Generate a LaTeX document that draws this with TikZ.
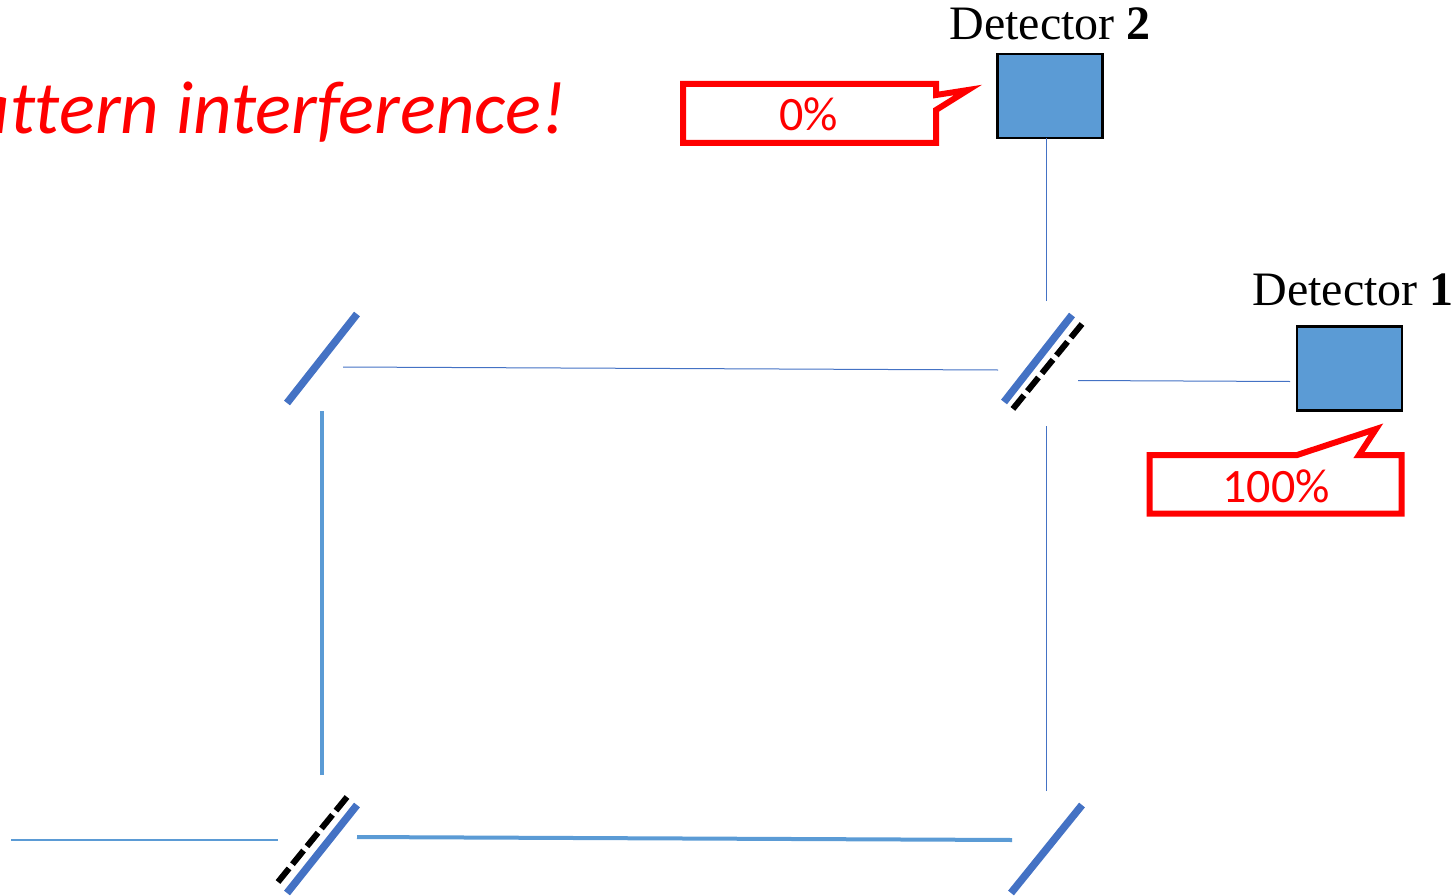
\documentclass[tikz,border=0pt]{standalone}
\usepackage{fontspec}
\setmainfont{Liberation Serif}
\newfontfamily\calloutfont[Ligatures=NoCommon]{Carlito}
\definecolor{boxblue}{HTML}{5B9BD5}
\definecolor{mirrorblue}{HTML}{4472C4}
\begin{document}
\begin{tikzpicture}[x=1pt,y=-1pt]

  %Styles for picture
  \tikzset
  {
  detector/.style={draw=black, line width=2.5pt, fill=boxblue, inner sep=0pt, outer sep=0pt, minimum width=105pt, minimum height=84pt},
  detlabel/.style={anchor=base, inner sep=0pt, font=\fontsize{48}{48}\selectfont},
  percent/.style={anchor=base, inner sep=0pt, text=red, font=\calloutfont\fontsize{48}{48}\selectfont},
  callout/.style={draw=red, line width=6pt, miter limit=20},
  mirror/.style={draw=mirrorblue, line width=7.5pt},
  halfmirror/.style={draw=black, line width=6pt, dash pattern=on 17.5pt off 5.5pt},
  thinbeam/.style={draw=mirrorblue, line width=1pt},
  lightbeam/.style={draw=boxblue, line width=1.2pt},
  thickbeam/.style={draw=boxblue, line width=4pt},
  }

  \useasboundingbox (0,0) rectangle (1455,896);

  %Nodes
  \node[detector] (d2) at (1050,96) {};
  \node[detector] (d1) at (1349.5,368.5) {};
  \node[detlabel] (d2label) at (1050,40) {Detector \textbf{2}};
  \node[detlabel] (d1label) at (1353,305) {Detector \textbf{1}};
  \node[anchor=base east, inner sep=0pt, text=red, font=\calloutfont\itshape\fontsize{75}{75}\selectfont] (title) at (566,134) {attern interference!};

  %Mirrors
  \coordinate (m1a) at (287,403);
  \coordinate (m1b) at (357,314);
  \coordinate (m2a) at (1004,402);
  \coordinate (m2b) at (1072,315);
  \coordinate (m2c) at (1012,410);
  \coordinate (m2d) at (1082,324);
  \coordinate (m3a) at (287,893);
  \coordinate (m3b) at (357,805);
  \coordinate (m3c) at (278,882);
  \coordinate (m3d) at (347,797);
  \coordinate (m4a) at (1011,893);
  \coordinate (m4b) at (1082,805);
  \draw[mirror] (m1a) -- (m1b);
  \draw[mirror] (m2a) -- (m2b);
  \draw[halfmirror] (m2d) -- (m2c);
  \draw[mirror] (m3a) -- (m3b);
  \draw[halfmirror] (m3d) -- (m3c);
  \draw[mirror] (m4a) -- (m4b);

  %Beam ends
  \coordinate (b1) at (11,840);
  \coordinate (b2) at (278,840);
  \coordinate (b3) at (357,837);
  \coordinate (b4) at (1012,840);
  \coordinate (b5) at (322,775);
  \coordinate (b6) at (322,411);
  \coordinate (b7) at (343,367);
  \coordinate (b8) at (998,370);
  \coordinate (b9) at (1046.6,791);
  \coordinate (b10) at (1046.6,426);
  \coordinate (b11) at (1046.6,301);
  \coordinate (b12) at (1046.6,138);
  \coordinate (b13) at (1078,380.5);
  \coordinate (b14) at (1290,381.5);

  %Edges
  \draw[lightbeam] (b1) -- (b2);
  \draw[thickbeam] (b3) -- (b4);
  \draw[thickbeam] (b5) -- (b6);
  \draw[thinbeam] (b7) -- (b8);
  \draw[thinbeam] (b9) -- (b10);
  \draw[thinbeam] (b11) -- (b12);
  \draw[thinbeam] (b13) -- (b14);

  %Callouts
  \draw[callout] (683,84) -- (936,84) -- (936,95) -- (968,90) -- (936,110) -- (936,143) -- (683,143) -- cycle;
  \draw[callout] (1149.5,455) -- (1297,455) -- (1376,429) -- (1359,455) -- (1401.5,455) -- (1401.5,513.5) -- (1149.5,513.5) -- cycle;
  \node[percent] (p2) at (808.5,131) {0\%};
  \node[percent] (p1) at (1276,502) {100\%};
\end{tikzpicture}
\end{document}
